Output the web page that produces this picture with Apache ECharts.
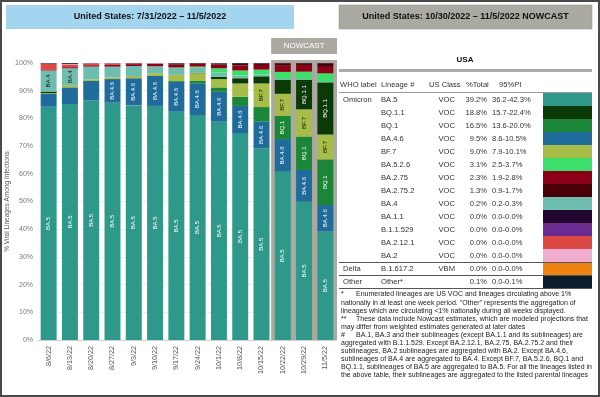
<!DOCTYPE html>
<html>
<head>
<meta charset="utf-8">
<script src="https://cdn.jsdelivr.net/npm/echarts@6/dist/echarts.min.js"></script>
<style>
html, body { margin: 0; padding: 0; background: #fff; }
#main { width: 600px; height: 397px; }
</style>
</head>
<body>
<div id="main"></div>
<script>
// weekly categories
var weeks = ['8/6/22', '8/13/22', '8/20/22', '8/27/22', '9/3/22', '9/10/22', '9/17/22',
    '9/24/22', '10/1/22', '10/8/22', '10/15/22', '10/22/22', '10/29/22', '11/5/22'];
var nowcastWeeks = ['10/22/22', '10/29/22', '11/5/22'];

// % of infections per lineage (stack order bottom -> top)
var ba5    = [84.2, 85.2, 86.4, 85.7, 84.7, 84.5, 82.4, 81.2, 78.8, 74.7, 69.2, 60.8, 49.9, 39.2];
var ba46   = [4.6, 6.0, 7.1, 8.5, 9.8, 10.8, 10.8, 11.5, 10.8, 9.8, 9.6, 11.7, 11.5, 9.5];
var bq1    = [0, 0, 0, 0, 0, 0, 0.3, 0.8, 1.6, 3.3, 5.3, 8.4, 12.0, 16.5];
var bf7    = [0.3, 0.8, 0.6, 0.6, 0.8, 1.0, 2.2, 2.8, 3.0, 4.8, 8.5, 8.0, 9.9, 9.0];
var bq11   = [0.6, 0, 0, 0, 0, 0, 0, 0.2, 0.8, 1.9, 2.6, 5.0, 10.6, 18.8];
var ba4    = [7.6, 6.1, 4.6, 3.9, 3.6, 2.4, 2.5, 1.8, 1.5, 1.0, 0.6, 0.4, 0.3, 0.2];
var ba526  = [0, 0, 0, 0, 0, 0.1, 0.2, 0.4, 1.6, 1.8, 1.8, 2.5, 2.7, 3.1];
var ba275  = [0.2, 0.4, 0.5, 0.6, 0.7, 0.9, 1.0, 1.1, 1.3, 1.8, 1.7, 2.4, 2.4, 2.3];
var ba2752 = [0, 0, 0, 0, 0, 0.1, 0.3, 0.2, 0.3, 0.6, 0.5, 0.7, 0.6, 1.3];
var ba2121 = [2.2, 1.0, 0.6, 0.5, 0.3, 0.1, 0.1, 0, 0.1, 0, 0, 0, 0, 0];
var ba2    = [0.1, 0.2, 0.1, 0.1, 0, 0.1, 0, 0, 0, 0, 0, 0, 0, 0];
var ba11   = [0, 0, 0, 0, 0, 0, 0, 0, 0, 0, 0, 0, 0, 0];
var b11529 = [0, 0, 0, 0, 0, 0, 0, 0, 0, 0, 0, 0, 0, 0];
var delta  = [0, 0, 0, 0, 0, 0, 0, 0, 0, 0, 0, 0, 0, 0];
var other  = [0.2, 0.3, 0.1, 0.1, 0.1, 0.1, 0.2, 0, 0.2, 0.3, 0.2, 0.1, 0.1, 0.1];

// nowcast table (legend order)
var lineages   = ['BA.5', 'BQ.1.1', 'BQ.1', 'BA.4.6', 'BF.7', 'BA.5.2.6', 'BA.2.75', 'BA.2.75.2',
    'BA.4', 'BA.1.1', 'B.1.1.529', 'BA.2.12.1', 'BA.2', 'B.1.617.2', 'Other*'];
var whoLabels  = ['Omicron', '', '', '', '', '', '', '', '', '', '', '', '', 'Delta', 'Other'];
var usClass    = ['VOC', 'VOC', 'VOC', 'VOC', 'VOC', 'VOC', 'VOC', 'VOC', 'VOC', 'VOC', 'VOC', 'VOC', 'VOC', 'VBM', ''];
var pctTotal   = ['39.2%', '18.8%', '16.5%', '9.5%', '9.0%', '3.1%', '2.3%', '1.3%', '0.2%', '0.0%', '0.0%', '0.0%', '0.0%', '0.0%', '0.1%'];
var pi95       = ['36.2-42.3%', '15.7-22.4%', '13.6-20.0%', '8.6-10.5%', '7.9-10.1%', '2.5-3.7%', '1.9-2.8%', '0.9-1.7%',
    '0.2-0.3%', '0.0-0.0%', '0.0-0.0%', '0.0-0.0%', '0.0-0.0%', '0.0-0.0%', '0.0-0.1%'];
var lineageColors = ['#2e988b', '#0b3a08', '#1b8538', '#1f6b9c', '#a6bd48', '#3ddf6b', '#8c0017', '#4a0008',
    '#6fbdaf', '#23062f', '#6a2c91', '#dc4843', '#efaed0', '#f0830f', '#0b1c2c'];

var footnotes = [
    ['*', 'Enumerated lineages are US VOC and lineages circulating above 1%'],
    ['', 'nationally in at least one week period. "Other" represents the aggregation of'],
    ['', 'lineages which are circulating <1% nationally during all weeks displayed.'],
    ['**', 'These data include Nowcast estimates, which are modeled projections that'],
    ['', 'may differ from weighted estimates generated at later dates'],
    ['#', 'BA.1, BA.3 and their sublineages (except BA.1.1 and its sublineages) are'],
    ['', 'aggregated with B.1.1.529. Except BA.2.12.1, BA.2.75, BA.2.75.2 and their'],
    ['', 'sublineages, BA.2 sublineages are aggregated with BA.2. Except BA.4.6,'],
    ['', 'sublineages of BA.4 are aggregated to BA.4. Except BF.7, BA.5.2.6, BQ.1 and'],
    ['', 'BQ.1.1, sublineages of BA.5 are aggregated to BA.5. For all the lineages listed in'],
    ['', 'the above table, their sublineages are aggregated to the listed parental lineages']
];

var FONT = '"Liberation Sans", Arial, sans-serif';
var stackData = {
    'BA.5': ba5, 'BA.4.6': ba46, 'BQ.1': bq1, 'BF.7': bf7, 'BQ.1.1': bq11, 'BA.4': ba4,
    'BA.5.2.6': ba526, 'BA.2.75': ba275, 'BA.2.75.2': ba2752, 'BA.2.12.1': ba2121, 'BA.2': ba2,
    'BA.1.1': ba11, 'B.1.1.529': b11529, 'B.1.617.2': delta, 'Other*': other
};
var stackOrder = ['BA.5', 'BA.4.6', 'BQ.1', 'BF.7', 'BQ.1.1', 'BA.4', 'BA.5.2.6', 'BA.2.75',
    'BA.2.75.2', 'BA.2.12.1', 'BA.2', 'BA.1.1', 'B.1.1.529', 'B.1.617.2', 'Other*'];
var darkLabel = {'BA.4': true, 'BF.7': true};

function colorOf(name) {
    return lineageColors[lineages.indexOf(name)];
}

var series = stackOrder.map(function (name) {
    return {
        name: name,
        type: 'bar',
        stack: 'total',
        barCategoryGap: '25%',
        data: stackData[name],
        itemStyle: {color: colorOf(name)},
        label: {
            show: true,
            position: 'inside',
            rotate: 90,
            fontSize: 6,
            fontFamily: FONT,
            color: darkLabel[name] ? '#111' : '#fff',
            formatter: function (p) {
                // only label segments tall enough for the text
                return p.value >= name.length * 1.35 ? name : '';
            }
        }
    };
});

var chart = echarts.init(document.getElementById('main'));

var option = {
    animation: false,
    backgroundColor: '#fff',
    textStyle: {fontFamily: FONT},
    grid: {left: 38, right: 264, top: 63, bottom: 57},
    xAxis: {
        type: 'category',
        data: weeks,
        axisTick: {show: false},
        axisLine: {lineStyle: {color: '#d0d0d0'}},
        axisLabel: {rotate: 90, fontSize: 7.2, color: '#555', margin: 6, fontFamily: FONT}
    },
    yAxis: {
        type: 'value',
        min: 0,
        max: 100,
        interval: 10,
        name: '% Viral Lineages Among Infections',
        nameLocation: 'middle',
        nameRotate: 90,
        nameGap: 26,
        nameTextStyle: {fontSize: 6.5, color: '#555', fontFamily: FONT},
        axisLabel: {formatter: '{value}%', fontSize: 7, color: '#777', margin: 5, fontFamily: FONT},
        splitLine: {lineStyle: {color: '#eeeeee'}}
    },
    series: series
};
chart.setOption(option);

// ---- decorations: frame, headers, nowcast box, table, footnotes ----
var g = [];
g.push({type: 'rect', z: 100, shape: {x: 1, y: 1, width: 598, height: 395},
    style: {fill: 'none', stroke: '#4a4a4a', lineWidth: 2}});

g.push({type: 'rect', z: 0, shape: {x: 6, y: 5, width: 288, height: 24}, style: {fill: '#a3d5ee'}});
g.push({type: 'text', z: 1, x: 150, y: 17, style: {text: 'United States: 7/31/2022 \u2013 11/5/2022',
    font: 'bold 9px ' + FONT, fill: '#111', textAlign: 'center', textVerticalAlign: 'middle'}});
g.push({type: 'rect', z: 0, shape: {x: 339, y: 5, width: 253, height: 24},
    style: {fill: '#aaa9a2', stroke: '#8f8e88', lineWidth: 0.5}});
g.push({type: 'text', z: 1, x: 465.5, y: 17, style: {text: 'United States: 10/30/2022 \u2013 11/5/2022 NOWCAST',
    font: 'bold 9px ' + FONT, fill: '#111', textAlign: 'center', textVerticalAlign: 'middle'}});

// nowcast shading behind last three bars
var band = chart.convertToPixel({xAxisIndex: 0}, weeks[1]) - chart.convertToPixel({xAxisIndex: 0}, weeks[0]);
var nx0 = chart.convertToPixel({xAxisIndex: 0}, nowcastWeeks[0]) - band / 2 - 1;
var nx1 = chart.convertToPixel({xAxisIndex: 0}, nowcastWeeks[nowcastWeeks.length - 1]) + band / 2 + 1;
var yTop = chart.convertToPixel({yAxisIndex: 0}, 100);
var yBot = chart.convertToPixel({yAxisIndex: 0}, 0);
g.push({type: 'rect', z: 0, shape: {x: nx0, y: yTop - 3, width: nx1 - nx0, height: yBot - yTop + 3},
    style: {fill: '#aba9a1'}});
g.push({type: 'rect', z: 0, shape: {x: nx0, y: 38, width: nx1 - nx0, height: 16}, style: {fill: '#aba9a1'}});
g.push({type: 'text', z: 1, x: (nx0 + nx1) / 2, y: 46, style: {text: 'NOWCAST', font: '8px ' + FONT,
    fill: '#fff', textAlign: 'center', textVerticalAlign: 'middle'}});

// table
var tFont = '7.6px ' + FONT;
g.push({type: 'text', z: 1, x: 465, y: 59.5, style: {text: 'USA', font: 'bold 8px ' + FONT, fill: '#111',
    textAlign: 'center', textVerticalAlign: 'middle'}});
g.push({type: 'rect', z: 0, shape: {x: 339, y: 69, width: 253, height: 3}, style: {fill: '#aaa'}});
var heads = [['WHO label', 340], ['Lineage #', 381], ['US Class', 429], ['%Total', 466], ['95%PI', 499]];
heads.forEach(function (h) {
    g.push({type: 'text', z: 1, x: h[1], y: 85, style: {text: h[0], font: tFont, fill: '#333',
        textAlign: 'left', textVerticalAlign: 'middle'}});
});
g.push({type: 'line', z: 1, shape: {x1: 339, y1: 92.5, x2: 592, y2: 92.5}, style: {stroke: '#999', lineWidth: 1}});

lineages.forEach(function (name, i) {
    var top = 93 + 13 * i;
    var cy = top + 6.5;
    g.push({type: 'rect', z: 0, shape: {x: 543, y: top, width: 49, height: 13}, style: {fill: lineageColors[i]}});
    g.push({type: 'text', z: 1, x: 343, y: cy, style: {text: whoLabels[i], font: tFont, fill: '#333', textVerticalAlign: 'middle'}});
    g.push({type: 'text', z: 1, x: 381, y: cy, style: {text: name, font: tFont, fill: '#333', textVerticalAlign: 'middle'}});
    g.push({type: 'text', z: 1, x: 455, y: cy, style: {text: usClass[i], font: tFont, fill: '#333',
        textAlign: 'right', textVerticalAlign: 'middle'}});
    g.push({type: 'text', z: 1, x: 487, y: cy, style: {text: pctTotal[i], font: tFont, fill: '#333',
        textAlign: 'right', textVerticalAlign: 'middle'}});
    g.push({type: 'text', z: 1, x: 492, y: cy, style: {text: pi95[i], font: tFont, fill: '#333', textVerticalAlign: 'middle'}});
});
[262.5, 275.5, 288.5].forEach(function (y) {
    g.push({type: 'line', z: 1, shape: {x1: 339, y1: y, x2: 592, y2: y}, style: {stroke: '#555', lineWidth: 1}});
});

// footnotes
footnotes.forEach(function (f, i) {
    var y = 294.5 + 8.1 * i;
    if (f[0]) {
        g.push({type: 'text', z: 1, x: 341, y: y, style: {text: f[0], font: '7px ' + FONT, fill: '#222', textVerticalAlign: 'middle'}});
    }
    g.push({type: 'text', z: 1, x: f[0] ? 356 : 341, y: y, style: {text: f[1], font: '7px ' + FONT, fill: '#222',
        textVerticalAlign: 'middle'}});
});

chart.setOption({graphic: {elements: g}});
</script>
</body>
</html>
